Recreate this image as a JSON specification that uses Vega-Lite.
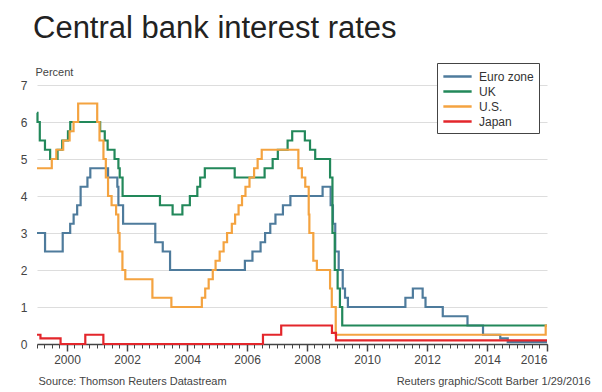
{
  "$schema": "https://vega.github.io/schema/vega-lite/v6.json",
  "width": 510,
  "height": 259,
  "autosize": "none",
  "padding": {"left": 37, "top": 85, "right": 55, "bottom": 48},
  "title": {
    "text": "Central bank interest rates",
    "anchor": "start",
    "frame": "group",
    "fontSize": 31,
    "fontWeight": "normal",
    "color": "#222222",
    "font": "Liberation Sans",
    "dx": -4,
    "offset": 18
  },
  "data": {
    "values": [
      {"bank": "Euro zone", "date": "1999-01-01", "rate": 3.0},
      {"bank": "Euro zone", "date": "1999-04-09", "rate": 2.5},
      {"bank": "Euro zone", "date": "1999-11-10", "rate": 3.0},
      {"bank": "Euro zone", "date": "2000-02-09", "rate": 3.25},
      {"bank": "Euro zone", "date": "2000-03-22", "rate": 3.5},
      {"bank": "Euro zone", "date": "2000-05-04", "rate": 3.75},
      {"bank": "Euro zone", "date": "2000-06-15", "rate": 4.25},
      {"bank": "Euro zone", "date": "2000-09-06", "rate": 4.5},
      {"bank": "Euro zone", "date": "2000-10-11", "rate": 4.75},
      {"bank": "Euro zone", "date": "2001-05-15", "rate": 4.5},
      {"bank": "Euro zone", "date": "2001-09-05", "rate": 4.25},
      {"bank": "Euro zone", "date": "2001-09-18", "rate": 3.75},
      {"bank": "Euro zone", "date": "2001-11-14", "rate": 3.25},
      {"bank": "Euro zone", "date": "2002-12-11", "rate": 2.75},
      {"bank": "Euro zone", "date": "2003-03-12", "rate": 2.5},
      {"bank": "Euro zone", "date": "2003-06-09", "rate": 2.0},
      {"bank": "Euro zone", "date": "2005-12-06", "rate": 2.25},
      {"bank": "Euro zone", "date": "2006-03-08", "rate": 2.5},
      {"bank": "Euro zone", "date": "2006-06-15", "rate": 2.75},
      {"bank": "Euro zone", "date": "2006-08-09", "rate": 3.0},
      {"bank": "Euro zone", "date": "2006-10-11", "rate": 3.25},
      {"bank": "Euro zone", "date": "2006-12-13", "rate": 3.5},
      {"bank": "Euro zone", "date": "2007-03-14", "rate": 3.75},
      {"bank": "Euro zone", "date": "2007-06-13", "rate": 4.0},
      {"bank": "Euro zone", "date": "2008-07-09", "rate": 4.25},
      {"bank": "Euro zone", "date": "2008-10-15", "rate": 3.75},
      {"bank": "Euro zone", "date": "2008-11-12", "rate": 3.25},
      {"bank": "Euro zone", "date": "2008-12-10", "rate": 2.5},
      {"bank": "Euro zone", "date": "2009-01-21", "rate": 2.0},
      {"bank": "Euro zone", "date": "2009-03-11", "rate": 1.5},
      {"bank": "Euro zone", "date": "2009-04-08", "rate": 1.25},
      {"bank": "Euro zone", "date": "2009-05-13", "rate": 1.0},
      {"bank": "Euro zone", "date": "2011-04-13", "rate": 1.25},
      {"bank": "Euro zone", "date": "2011-07-13", "rate": 1.5},
      {"bank": "Euro zone", "date": "2011-11-09", "rate": 1.25},
      {"bank": "Euro zone", "date": "2011-12-14", "rate": 1.0},
      {"bank": "Euro zone", "date": "2012-07-11", "rate": 0.75},
      {"bank": "Euro zone", "date": "2013-05-08", "rate": 0.5},
      {"bank": "Euro zone", "date": "2013-11-13", "rate": 0.25},
      {"bank": "Euro zone", "date": "2014-06-11", "rate": 0.15},
      {"bank": "Euro zone", "date": "2014-09-10", "rate": 0.05},
      {"bank": "Euro zone", "date": "2016-01-01", "rate": 0.05},
      {"bank": "UK", "date": "1999-01-01", "rate": 6.25},
      {"bank": "UK", "date": "1999-01-07", "rate": 6.0},
      {"bank": "UK", "date": "1999-02-04", "rate": 5.5},
      {"bank": "UK", "date": "1999-04-08", "rate": 5.25},
      {"bank": "UK", "date": "1999-06-10", "rate": 5.0},
      {"bank": "UK", "date": "1999-09-08", "rate": 5.25},
      {"bank": "UK", "date": "1999-11-04", "rate": 5.5},
      {"bank": "UK", "date": "2000-01-13", "rate": 5.75},
      {"bank": "UK", "date": "2000-02-10", "rate": 6.0},
      {"bank": "UK", "date": "2001-02-08", "rate": 5.75},
      {"bank": "UK", "date": "2001-04-05", "rate": 5.5},
      {"bank": "UK", "date": "2001-05-10", "rate": 5.25},
      {"bank": "UK", "date": "2001-08-02", "rate": 5.0},
      {"bank": "UK", "date": "2001-09-18", "rate": 4.75},
      {"bank": "UK", "date": "2001-10-04", "rate": 4.5},
      {"bank": "UK", "date": "2001-11-08", "rate": 4.0},
      {"bank": "UK", "date": "2003-02-06", "rate": 3.75},
      {"bank": "UK", "date": "2003-07-10", "rate": 3.5},
      {"bank": "UK", "date": "2003-11-06", "rate": 3.75},
      {"bank": "UK", "date": "2004-02-05", "rate": 4.0},
      {"bank": "UK", "date": "2004-05-06", "rate": 4.25},
      {"bank": "UK", "date": "2004-06-10", "rate": 4.5},
      {"bank": "UK", "date": "2004-08-05", "rate": 4.75},
      {"bank": "UK", "date": "2005-08-04", "rate": 4.5},
      {"bank": "UK", "date": "2006-08-03", "rate": 4.75},
      {"bank": "UK", "date": "2006-11-09", "rate": 5.0},
      {"bank": "UK", "date": "2007-01-11", "rate": 5.25},
      {"bank": "UK", "date": "2007-05-10", "rate": 5.5},
      {"bank": "UK", "date": "2007-07-05", "rate": 5.75},
      {"bank": "UK", "date": "2007-12-06", "rate": 5.5},
      {"bank": "UK", "date": "2008-02-07", "rate": 5.25},
      {"bank": "UK", "date": "2008-04-10", "rate": 5.0},
      {"bank": "UK", "date": "2008-10-08", "rate": 4.5},
      {"bank": "UK", "date": "2008-11-06", "rate": 3.0},
      {"bank": "UK", "date": "2008-12-04", "rate": 2.0},
      {"bank": "UK", "date": "2009-01-08", "rate": 1.5},
      {"bank": "UK", "date": "2009-02-05", "rate": 1.0},
      {"bank": "UK", "date": "2009-03-05", "rate": 0.5},
      {"bank": "UK", "date": "2016-01-01", "rate": 0.5},
      {"bank": "U.S.", "date": "1999-01-01", "rate": 4.75},
      {"bank": "U.S.", "date": "1999-06-30", "rate": 5.0},
      {"bank": "U.S.", "date": "1999-08-24", "rate": 5.25},
      {"bank": "U.S.", "date": "1999-11-16", "rate": 5.5},
      {"bank": "U.S.", "date": "2000-02-02", "rate": 5.75},
      {"bank": "U.S.", "date": "2000-03-21", "rate": 6.0},
      {"bank": "U.S.", "date": "2000-05-16", "rate": 6.5},
      {"bank": "U.S.", "date": "2001-01-03", "rate": 6.0},
      {"bank": "U.S.", "date": "2001-01-31", "rate": 5.5},
      {"bank": "U.S.", "date": "2001-03-20", "rate": 5.0},
      {"bank": "U.S.", "date": "2001-04-18", "rate": 4.5},
      {"bank": "U.S.", "date": "2001-05-15", "rate": 4.0},
      {"bank": "U.S.", "date": "2001-06-27", "rate": 3.75},
      {"bank": "U.S.", "date": "2001-08-21", "rate": 3.5},
      {"bank": "U.S.", "date": "2001-09-17", "rate": 3.0},
      {"bank": "U.S.", "date": "2001-10-02", "rate": 2.5},
      {"bank": "U.S.", "date": "2001-11-06", "rate": 2.0},
      {"bank": "U.S.", "date": "2001-12-11", "rate": 1.75},
      {"bank": "U.S.", "date": "2002-11-06", "rate": 1.25},
      {"bank": "U.S.", "date": "2003-06-25", "rate": 1.0},
      {"bank": "U.S.", "date": "2004-06-30", "rate": 1.25},
      {"bank": "U.S.", "date": "2004-08-10", "rate": 1.5},
      {"bank": "U.S.", "date": "2004-09-21", "rate": 1.75},
      {"bank": "U.S.", "date": "2004-11-10", "rate": 2.0},
      {"bank": "U.S.", "date": "2004-12-14", "rate": 2.25},
      {"bank": "U.S.", "date": "2005-02-02", "rate": 2.5},
      {"bank": "U.S.", "date": "2005-03-22", "rate": 2.75},
      {"bank": "U.S.", "date": "2005-05-03", "rate": 3.0},
      {"bank": "U.S.", "date": "2005-06-30", "rate": 3.25},
      {"bank": "U.S.", "date": "2005-08-09", "rate": 3.5},
      {"bank": "U.S.", "date": "2005-09-20", "rate": 3.75},
      {"bank": "U.S.", "date": "2005-11-01", "rate": 4.0},
      {"bank": "U.S.", "date": "2005-12-13", "rate": 4.25},
      {"bank": "U.S.", "date": "2006-01-31", "rate": 4.5},
      {"bank": "U.S.", "date": "2006-03-28", "rate": 4.75},
      {"bank": "U.S.", "date": "2006-05-10", "rate": 5.0},
      {"bank": "U.S.", "date": "2006-06-29", "rate": 5.25},
      {"bank": "U.S.", "date": "2007-09-18", "rate": 4.75},
      {"bank": "U.S.", "date": "2007-10-31", "rate": 4.5},
      {"bank": "U.S.", "date": "2007-12-11", "rate": 4.25},
      {"bank": "U.S.", "date": "2008-01-22", "rate": 3.5},
      {"bank": "U.S.", "date": "2008-01-30", "rate": 3.0},
      {"bank": "U.S.", "date": "2008-03-18", "rate": 2.25},
      {"bank": "U.S.", "date": "2008-04-30", "rate": 2.0},
      {"bank": "U.S.", "date": "2008-10-08", "rate": 1.5},
      {"bank": "U.S.", "date": "2008-10-29", "rate": 1.0},
      {"bank": "U.S.", "date": "2008-12-16", "rate": 0.25},
      {"bank": "U.S.", "date": "2015-12-16", "rate": 0.5},
      {"bank": "U.S.", "date": "2016-01-01", "rate": 0.5},
      {"bank": "Japan", "date": "1999-01-01", "rate": 0.25},
      {"bank": "Japan", "date": "1999-02-12", "rate": 0.15},
      {"bank": "Japan", "date": "1999-10-15", "rate": 0.0},
      {"bank": "Japan", "date": "2000-08-11", "rate": 0.25},
      {"bank": "Japan", "date": "2001-03-19", "rate": 0.0},
      {"bank": "Japan", "date": "2006-07-14", "rate": 0.25},
      {"bank": "Japan", "date": "2007-02-21", "rate": 0.5},
      {"bank": "Japan", "date": "2008-10-31", "rate": 0.3},
      {"bank": "Japan", "date": "2008-12-19", "rate": 0.1},
      {"bank": "Japan", "date": "2016-01-01", "rate": 0.1}
    ]
  },
  "layer": [
    {
      "mark": {"type": "line", "interpolate": "step-after", "strokeWidth": 2.2},
      "encoding": {
        "x": {
          "field": "date",
          "type": "temporal",
          "scale": {"type": "utc", "domain": [{"year": 1999, "month": 1, "date": 1, "utc": true}, {"year": 2016, "month": 1, "date": 1, "utc": true}]},
          "axis": {
            "orient": "bottom",
            "tickCount": {"interval": "month", "step": 3},
            "labels": false,
            "grid": false,
            "domain": true,
            "domainColor": "#444",
            "domainWidth": 1.5,
            "tickColor": "#444",
            "tickSize": 4,
            "tickWidth": 1,
            "title": "Reuters graphic/Scott Barber 1/29/2016",
            "titleAnchor": "end",
            "titleAlign": "right",
            "titleBaseline": "alphabetic",
            "titleX": 553,
            "titleY": 40,
            "titleFontSize": 11,
            "titleFontWeight": "normal",
            "titleColor": "#444"
          }
        },
        "y": {
          "field": "rate",
          "type": "quantitative",
          "scale": {"domain": [0, 7]},
          "axis": {
            "values": [0, 1, 2, 3, 4, 5, 6, 7],
            "grid": true,
            "gridColor": "#dddddd",
            "domain": false,
            "ticks": false,
            "labelPadding": 10,
            "labelFontSize": 12,
            "labelColor": "#444",
            "title": "Percent",
            "titleAngle": 0,
            "titleAlign": "left",
            "titleBaseline": "alphabetic",
            "titleX": -2,
            "titleY": -10,
            "titleFontSize": 11,
            "titleFontWeight": "normal",
            "titleColor": "#444"
          }
        },
        "color": {
          "field": "bank",
          "type": "nominal",
          "sort": ["Euro zone", "UK", "U.S.", "Japan"],
          "scale": {"domain": ["Euro zone", "UK", "U.S.", "Japan"], "range": ["#4e7b9c", "#22885a", "#f4a340", "#e3262b"]},
          "legend": {
            "orient": "none",
            "legendX": 400,
            "legendY": -22,
            "title": null,
            "strokeColor": "#444",
            "fillColor": "white",
            "padding": 5,
            "symbolType": "M-2,0H2",
            "symbolSize": 200,
            "symbolOffset": 7,
            "symbolStrokeWidth": 2.5,
            "rowPadding": 0,
            "labelFontSize": 12,
            "labelColor": "#333",
            "labelOffset": 13,
            "labelExpr": "datum.label + '                           '"
          }
        }
      }
    },
    {
      "mark": {"type": "line", "opacity": 0},
      "encoding": {
        "x": {
          "field": "date",
          "type": "temporal",
          "axis": {
            "orient": "bottom",
            "values": [{"year": 2000, "month": 1, "date": 1, "utc": true}, {"year": 2002, "month": 1, "date": 1, "utc": true}, {"year": 2004, "month": 1, "date": 1, "utc": true}, {"year": 2006, "month": 1, "date": 1, "utc": true}, {"year": 2008, "month": 1, "date": 1, "utc": true}, {"year": 2010, "month": 1, "date": 1, "utc": true}, {"year": 2012, "month": 1, "date": 1, "utc": true}, {"year": 2014, "month": 1, "date": 1, "utc": true}, {"year": 2016, "month": 1, "date": 1, "utc": true}],
            "format": "%Y",
            "grid": false,
            "domain": false,
            "tickColor": "#444",
            "tickSize": 7,
            "tickWidth": 1.5,
            "labelFontSize": 12,
            "labelColor": "#444",
            "labelPadding": 3,
            "title": "Source: Thomson Reuters Datastream",
            "titleAnchor": "start",
            "titleAlign": "left",
            "titleBaseline": "alphabetic",
            "titleX": 1,
            "titleY": 40,
            "titleFontSize": 11,
            "titleFontWeight": "normal",
            "titleColor": "#444"
          }
        },
        "y": {
          "field": "rate",
          "type": "quantitative",
          "axis": {
            "values": [0, 1, 2, 3, 4, 5, 6, 7],
            "grid": true,
            "gridColor": "#dddddd",
            "domain": false,
            "ticks": false,
            "labelPadding": 10,
            "labelFontSize": 12,
            "labelColor": "#444",
            "title": "Percent",
            "titleAngle": 0,
            "titleAlign": "left",
            "titleBaseline": "alphabetic",
            "titleX": -2,
            "titleY": -10,
            "titleFontSize": 11,
            "titleFontWeight": "normal",
            "titleColor": "#444"
          }
        },
        "detail": {"field": "bank"}
      }
    }
  ],
  "resolve": {"axis": {"x": "independent"}},
  "config": {
    "font": "Liberation Sans",
    "view": {"stroke": null},
    "axis": {"labelFont": "Liberation Sans", "titleFont": "Liberation Sans"},
    "legend": {"labelFont": "Liberation Sans"}
  }
}
